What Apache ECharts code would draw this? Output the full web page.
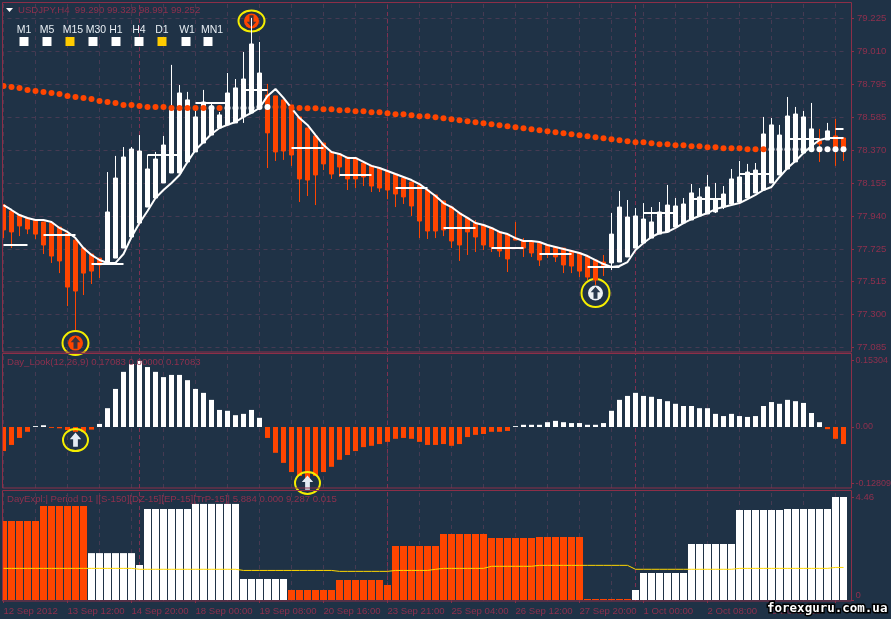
<!DOCTYPE html>
<html>
<head>
<meta charset="utf-8">
<style>html,body{margin:0;padding:0;background:#1f3246}#c{width:891px;height:619px}</style>
<script src="https://cdn.jsdelivr.net/npm/echarts@6/dist/echarts.min.js"></script>
</head>
<body>
<div id="c"></div>
<script>
const opens=[78.011,77.972,77.946,77.927,77.914,77.901,77.894,77.868,77.829,77.783,77.731,77.692,77.666,77.634,77.666,77.731,77.803,77.894,77.998,78.057,78.155,78.220,78.220,78.292,78.357,78.415,78.467,78.513,78.533,78.546,78.585,78.611,78.643,78.728,78.722,78.696,78.663,78.585,78.513,78.461,78.415,78.357,78.344,78.324,78.318,78.285,78.266,78.252,78.233,78.213,78.187,78.161,78.142,78.109,78.077,78.038,77.998,77.959,77.927,77.894,77.881,77.862,77.836,77.822,77.796,77.777,77.770,77.764,77.751,77.738,77.731,77.712,77.699,77.679,77.653,77.640,77.634,77.640,77.673,77.731,77.764,77.796,77.822,77.836,77.868,77.894,77.914,77.940,77.953,77.966,77.998,78.018,78.031,78.057,78.090,78.109,78.155,78.207,78.246,78.292,78.350,78.370,78.428,78.435,78.461,78.448];
const closes=[77.849,77.836,77.875,77.855,77.822,77.751,77.679,77.647,77.477,77.451,77.568,77.581,77.621,77.966,78.187,78.324,78.376,78.363,78.246,78.311,78.402,78.637,78.741,78.696,78.585,78.682,78.630,78.598,78.741,78.774,78.832,79.060,78.871,78.481,78.357,78.363,78.337,78.181,78.174,78.207,78.279,78.213,78.259,78.181,78.181,78.194,78.135,78.122,78.109,78.083,78.064,78.005,77.907,77.842,77.842,77.849,77.777,77.751,77.836,77.803,77.751,77.738,77.712,77.660,77.783,77.731,77.699,77.653,77.692,77.673,77.621,77.614,77.581,77.542,77.523,77.614,77.822,77.998,77.933,77.940,77.920,77.901,77.966,78.011,78.005,78.018,78.090,78.064,78.129,78.044,78.083,78.181,78.194,78.226,78.239,78.474,78.533,78.467,78.591,78.604,78.585,78.507,78.409,78.494,78.370,78.370];
const lows=[77.796,77.731,77.809,77.822,77.790,77.692,77.634,77.568,77.353,77.197,77.425,77.497,77.536,77.627,77.666,77.731,77.803,77.894,77.998,78.057,78.155,78.220,78.220,78.292,78.357,78.415,78.467,78.513,78.533,78.546,78.546,78.611,78.643,78.252,78.298,78.305,78.266,78.031,78.070,78.011,78.239,78.181,78.194,78.109,78.122,78.135,78.096,78.096,78.050,77.998,78.018,77.940,77.796,77.790,77.796,77.809,77.731,77.647,77.686,77.705,77.718,77.705,77.673,77.575,77.783,77.673,77.673,77.614,77.666,77.640,77.568,77.568,77.542,77.523,77.490,77.549,77.588,77.640,77.673,77.731,77.764,77.796,77.822,77.836,77.868,77.894,77.914,77.940,77.953,77.959,77.985,78.018,78.031,78.057,78.090,78.109,78.155,78.207,78.246,78.292,78.350,78.370,78.292,78.435,78.266,78.298];
const highs=[78.018,77.972,77.946,77.927,77.914,77.901,77.894,77.868,77.829,77.783,77.731,77.692,77.666,78.226,78.331,78.389,78.389,78.467,78.337,78.357,78.461,78.924,78.793,78.748,78.643,78.761,78.682,78.617,78.871,78.832,79.008,79.230,79.073,78.800,78.722,78.696,78.663,78.585,78.513,78.461,78.415,78.357,78.344,78.324,78.318,78.285,78.266,78.252,78.233,78.213,78.187,78.161,78.142,78.109,78.077,78.038,77.998,77.959,77.927,77.914,77.881,77.862,77.836,77.822,77.901,77.796,77.770,77.764,77.751,77.738,77.731,77.712,77.699,77.679,77.653,77.686,77.959,78.103,78.044,77.992,78.024,77.998,78.031,78.142,78.057,78.057,78.148,78.122,78.207,78.155,78.135,78.246,78.298,78.279,78.285,78.585,78.578,78.533,78.715,78.650,78.624,78.676,78.507,78.546,78.572,78.454];
const trend=[78.011,77.979,77.946,77.927,77.914,77.914,77.901,77.862,77.836,77.796,77.731,77.686,77.653,77.634,77.634,77.692,77.803,77.894,77.972,78.057,78.109,78.155,78.207,78.292,78.370,78.422,78.474,78.513,78.533,78.552,78.585,78.611,78.643,78.722,78.767,78.709,78.643,78.578,78.533,78.467,78.402,78.357,78.344,78.318,78.318,78.292,78.266,78.252,78.233,78.213,78.194,78.174,78.148,78.109,78.070,78.024,77.998,77.959,77.927,77.894,77.881,77.862,77.836,77.822,77.796,77.777,77.777,77.770,77.751,77.738,77.725,77.712,77.699,77.679,77.653,77.627,77.608,77.614,77.640,77.718,77.764,77.803,77.829,77.836,77.862,77.894,77.920,77.940,77.959,77.985,77.998,78.011,78.024,78.050,78.077,78.109,78.129,78.194,78.252,78.298,78.350,78.396,78.435,78.448,78.448,78.448];
const longDots=[78.787,78.780,78.774,78.761,78.754,78.748,78.741,78.735,78.722,78.715,78.709,78.702,78.689,78.682,78.676,78.663,78.663,78.656,78.650,78.650,78.650,78.643,78.643,78.643,78.643,78.643,78.643,78.643,78.643,78.643,78.643,78.643,78.650,78.650,78.650,78.650,78.643,78.643,78.641,78.641,78.635,78.635,78.628,78.628,78.622,78.622,78.615,78.615,78.609,78.602,78.602,78.596,78.589,78.589,78.583,78.576,78.570,78.563,78.557,78.550,78.544,78.537,78.531,78.524,78.518,78.511,78.505,78.498,78.492,78.485,78.479,78.472,78.466,78.459,78.453,78.446,78.440,78.433,78.426,78.420,78.420,78.413,78.407,78.407,78.400,78.400,78.394,78.394,78.387,78.387,78.381,78.381,78.381,78.374,78.374,78.374,78.374,78.374,78.374,78.374,78.374,78.374,78.374,78.374,78.374,78.374];
const whiteDotBars=[26,28,29,30,31,32,33,96,97,98,99,100,101,102,103,104,105];
const dayLevels=[[0,3,77.751],[5,9,77.818],[11,15,77.627],[18,22,78.337],[24,28,78.676],[30,33,78.761],[36,40,78.383],[42,46,78.207],[49,53,78.122],[55,59,77.862],[61,65,77.731],[67,71,77.692],[73,77,77.608],[80,84,77.959],[86,90,78.050],[92,96,78.213],[98,102,78.441],[104,105,78.507]];
const macd=[-0.055,-0.041,-0.025,-0.011,0.002,0.004,-0.002,-0.003,-0.007,-0.011,-0.011,-0.006,0.007,0.043,0.087,0.126,0.144,0.151,0.137,0.126,0.114,0.119,0.119,0.107,0.087,0.078,0.062,0.039,0.037,0.027,0.030,0.039,0.021,-0.025,-0.059,-0.082,-0.103,-0.112,-0.118,-0.112,-0.103,-0.091,-0.075,-0.064,-0.055,-0.046,-0.043,-0.039,-0.034,-0.027,-0.025,-0.027,-0.034,-0.041,-0.041,-0.039,-0.043,-0.039,-0.023,-0.018,-0.016,-0.011,-0.011,-0.009,0.002,0.005,0.005,0.005,0.011,0.014,0.011,0.009,0.009,0.005,0.005,0.009,0.037,0.062,0.071,0.078,0.071,0.069,0.064,0.059,0.053,0.048,0.048,0.043,0.043,0.030,0.025,0.030,0.025,0.023,0.025,0.048,0.057,0.053,0.062,0.059,0.055,0.032,0.011,-0.005,-0.027,-0.039];
const expl=[3.42,3.42,3.42,3.42,3.42,4.07,4.07,4.07,4.07,4.07,4.07,2.03,2.03,2.03,2.03,2.03,2.03,1.515,3.94,3.94,3.94,3.94,3.94,3.94,4.16,4.16,4.16,4.16,4.16,4.16,0.909,0.909,0.909,0.909,0.909,0.909,0.433,0.433,0.433,0.433,0.433,0.433,0.866,0.866,0.866,0.866,0.866,0.866,0.649,2.338,2.338,2.338,2.338,2.338,2.338,2.857,2.857,2.857,2.857,2.857,2.857,2.684,2.684,2.684,2.684,2.684,2.684,2.727,2.727,2.727,2.727,2.727,2.727,0.043,0.043,0.043,0.043,0.043,0.043,0.433,1.169,1.169,1.169,1.169,1.169,1.169,2.424,2.424,2.424,2.424,2.424,2.424,3.896,3.896,3.896,3.896,3.896,3.896,3.94,3.94,3.94,3.94,3.94,3.94,4.459,4.459];
const explUpBars=[[11,35],[79,105]];
const explSignal=[1.37,1.37,1.37,1.37,1.37,1.37,1.37,1.37,1.37,1.37,1.37,1.37,1.37,1.37,1.37,1.37,1.37,1.33,1.33,1.33,1.33,1.33,1.33,1.33,1.33,1.33,1.33,1.33,1.33,1.33,1.28,1.28,1.28,1.28,1.28,1.28,1.28,1.28,1.28,1.28,1.28,1.28,1.24,1.24,1.24,1.24,1.24,1.24,1.24,1.28,1.28,1.28,1.28,1.28,1.33,1.37,1.37,1.37,1.37,1.37,1.37,1.46,1.46,1.46,1.46,1.46,1.46,1.50,1.50,1.50,1.50,1.50,1.50,1.50,1.50,1.50,1.50,1.50,1.50,1.33,1.33,1.33,1.33,1.33,1.33,1.33,1.33,1.33,1.33,1.33,1.33,1.33,1.37,1.37,1.37,1.37,1.37,1.37,1.37,1.37,1.37,1.37,1.37,1.37,1.41,1.41];
const xTickLabels=['12 Sep 2012','13 Sep 12:00','14 Sep 20:00','18 Sep 00:00','19 Sep 08:00','20 Sep 16:00','23 Sep 21:00','25 Sep 04:00','26 Sep 12:00','27 Sep 20:00','1 Oct 00:00','2 Oct 08:00','3 Oct 16:00'];
const priceTicks=[79.225,79.010,78.795,78.585,78.370,78.155,77.940,77.725,77.515,77.300,77.085];
const macdTicks=[-0.12809,0,0.15304];
const explTicks=[0,4.46];
const separatorBars=[17,48,79];
const priceSignals=[[31,79.21,'down'],[9,77.112,'upRed'],[74,77.438,'upWhite']];
const macdSignals=[[9,-0.03],[38,-0.128]];
const mtfLabels=['M1','M5','M15','M30','H1','H4','D1','W1','MN1'];
const mtfLabelX=[24,47,73,96,116,139,162,187,212];
const mtfBoxX=[24,47,70,93,116,139,162,186,208];
const mtfColors=['#fff','#fff','#ffcc00','#fff','#fff','#fff','#ffcc00','#fff','#fff'];

const BG='#1f3246',RED='#ff4500',FRAME='#8c2f48',TXT='#8f304e',GRID='#463a52',SEP='#7f3050',FONT='"Liberation Sans",sans-serif',FS=9.6;
const categories=opens.map((_,i)=>i%8===0?(xTickLabels[i/8]||''):'');
const candles=opens.map((o,i)=>[o,closes[i],lows[i],highs[i]]);
const gridBars=opens.map((_,i)=>i).filter(i=>i%4===0);
const xBase=(grid,extra)=>Object.assign({type:'category',gridIndex:grid,data:categories,boundaryGap:true,
  axisLine:{show:false},axisTick:{show:false},axisLabel:{show:false},splitLine:{show:false}},extra||{});
const yBase=(grid,min,max,ticks,fmt,labelExtra,extra)=>Object.assign({type:'value',gridIndex:grid,position:'right',offset:3.5,min,max,
  axisLine:{show:false},
  axisTick:{show:true,length:3,customValues:ticks,lineStyle:{color:FRAME}},
  axisLabel:Object.assign({customValues:ticks,formatter:fmt,color:TXT,fontFamily:FONT,fontSize:FS,margin:6},labelExtra||{}),
  splitLine:{show:false}},extra||{});
const sepLine=()=>({silent:true,symbol:'none',label:{show:false},animation:false,z:1,
  data:gridBars.map(k=>({xAxis:k,lineStyle:{color:GRID,type:[4,4],width:1}}))
    .concat(separatorBars.map(k=>({xAxis:k,lineStyle:{color:SEP,type:[4,3],width:1}})))});
function arrow(cx,cy,up,s,fill){
  const d=up?1:-1;
  const pts=[[0,-8],[6,-1],[2.5,-1],[2.5,7],[-2.5,7],[-2.5,-1],[-6,-1]].map(p=>[cx+p[0]*s,cy+p[1]*s*d]);
  return {type:'polygon',shape:{points:pts},style:{fill}};
}
const ring=(cx,cy,rx,ry)=>({type:'ellipse',shape:{cx,cy,rx,ry},style:{fill:'none',stroke:'#f5ee00',lineWidth:2}});

const option={
  animation:false,backgroundColor:BG,
  grid:[{left:-0.5,top:3,width:848,height:349,outerBoundsMode:'none'},{left:-0.5,top:354,width:848,height:134,outerBoundsMode:'none'},{left:-0.5,top:491,width:848,height:110,outerBoundsMode:'none'}],
  xAxis:[xBase(0),xBase(1),xBase(2,{
    axisTick:{show:true,alignWithLabel:true,interval:7,length:3,lineStyle:{color:FRAME}},
    axisLabel:{show:true,interval:7,align:'left',color:TXT,fontFamily:FONT,fontSize:FS,margin:5,hideOverlap:false,formatter:v=>v}})],
  yAxis:[
    yBase(0,77.054,79.327,priceTicks,v=>v.toFixed(3),null,{splitLine:{show:true,lineStyle:{color:GRID,type:[4,4]}}}),
    yBase(1,-0.1394,0.1668,macdTicks,v=>v===0?'0.00':v.toFixed(5),{fontSize:9,margin:4.5}),
    yBase(2,-0.043,4.719,explTicks,v=>v===0?'0':v.toFixed(2),{margin:4.5,verticalAlignMinLabel:'bottom'})
  ],
  series:[
    {type:'custom',xAxisIndex:0,yAxisIndex:0,z:2,clip:false,data:priceSignals,encode:{x:0,y:1},
      renderItem(p,api){
        const s=priceSignals[p.dataIndex],c=api.coord([s[0],s[1]]),cx=c[0],cy=c[1];
        const fill=s[2]==='upWhite'?'#eef2f5':RED;
        return {type:'group',children:[
          {type:'circle',shape:{cx,cy,r:7.5},style:{fill}},
          arrow(cx,cy,s[2]!=='down',0.8,s[2]==='upWhite'?'#2a3a4e':'#3a3440'),
          ring(cx,cy,s[2]==='upWhite'?14:13,s[2]==='upWhite'?14:s[2]==='down'?10.5:12)
        ]};
      }},
    {name:'USDJPY',type:'candlestick',xAxisIndex:0,yAxisIndex:0,z:3,barWidth:5,data:candles,
      itemStyle:{color:'#fff',color0:RED,borderColor:'#fff',borderColor0:RED,borderWidth:1},markLine:sepLine()},
    {type:'line',xAxisIndex:0,yAxisIndex:0,z:4,data:trend,symbol:'none',lineStyle:{color:'#fff',width:2}},
    {type:'custom',xAxisIndex:0,yAxisIndex:0,z:4,data:dayLevels,encode:{x:0,y:2},
      renderItem(p,api){
        const s=dayLevels[p.dataIndex],a=api.coord([s[0],s[2]]),b=api.coord([s[1],s[2]]);
        return {type:'line',shape:{x1:a[0],y1:Math.round(a[1]),x2:b[0],y2:Math.round(a[1])},style:{stroke:'#fff',lineWidth:2}};
      }},
    {type:'scatter',xAxisIndex:0,yAxisIndex:0,z:5,data:longDots,symbolSize:6,
      itemStyle:{color:p=>whiteDotBars.includes(p.dataIndex)?'#fff':RED,opacity:1}},
    {type:'bar',xAxisIndex:1,yAxisIndex:1,z:3,barWidth:5,data:macd,
      itemStyle:{color:p=>p.value>=0?'#fff':RED},markLine:sepLine()},
    {type:'custom',xAxisIndex:1,yAxisIndex:1,z:5,clip:false,data:macdSignals,encode:{x:0,y:1},
      renderItem(p,api){
        const s=macdSignals[p.dataIndex],c=api.coord([s[0],s[1]]);
        return {type:'group',children:[arrow(c[0],c[1],true,0.95,'#e4ebf2'),ring(c[0],c[1],12.5,11)]};
      }},
    {type:'bar',xAxisIndex:2,yAxisIndex:2,z:3,barWidth:7,data:expl,
      itemStyle:{color:p=>explUpBars.some(r=>p.dataIndex>=r[0]&&p.dataIndex<=r[1])?'#fff':RED},markLine:sepLine()},
    {type:'line',xAxisIndex:2,yAxisIndex:2,z:4,data:explSignal,symbol:'none',lineStyle:{color:'#ffd700',width:1}}
  ],
  graphic:[
    {type:'rect',z:90,silent:true,shape:{x:0,y:0,width:2,height:601},style:{fill:BG}},
    {type:'rect',z:91,silent:true,shape:{x:2.5,y:2.5,width:849,height:349.5},style:{fill:'none',stroke:FRAME,lineWidth:1}},
    {type:'rect',z:91,silent:true,shape:{x:2.5,y:353.5,width:849,height:134.5},style:{fill:'none',stroke:FRAME,lineWidth:1}},
    {type:'rect',z:91,silent:true,shape:{x:2.5,y:490.5,width:849,height:110.5},style:{fill:'none',stroke:FRAME,lineWidth:1}},
    {type:'polygon',z:92,silent:true,shape:{points:[[6,8],[13,8],[9.5,12]]},style:{fill:'#fff'}},
    {type:'text',z:92,silent:true,style:{x:18,y:10,text:'USDJPY,H4  99.290 99.328 98.991 99.252',fill:TXT,font:FS+'px '+FONT,verticalAlign:'middle'}},
    {type:'text',z:92,silent:true,style:{x:7,y:362.5,text:'Day_Look(12,26,9) 0.17083 0.00000 0.17083',fill:TXT,font:FS+'px '+FONT,verticalAlign:'middle'}},
    {type:'text',z:92,silent:true,style:{x:7,y:499.5,text:'DayExpl:| Period D1 |[S-150][DZ-15][EP-15][TrP-15]| 5.884 0.000 9.287 0.015',fill:TXT,font:FS+'px '+FONT,verticalAlign:'middle'}},
    ...mtfLabels.map((t,i)=>({type:'text',z:92,silent:true,style:{x:mtfLabelX[i],y:30,text:t,fill:'#e6edf2',font:'10.5px '+FONT,align:'center',verticalAlign:'middle'}})),
    ...mtfColors.map((c,i)=>({type:'rect',z:92,silent:true,shape:{x:mtfBoxX[i]-4.5,y:37,width:9,height:9},style:{fill:c}})),
    {type:'text',z:95,silent:true,style:{x:767,y:609,text:'forexguru.com.ua',fill:'#fff',stroke:'#000',lineWidth:3,font:'bold 12.5px "DejaVu Sans Mono",monospace',verticalAlign:'middle'}}
  ]
};
echarts.init(document.getElementById('c'),null,{renderer:'canvas'}).setOption(option);
</script>
</body>
</html>
